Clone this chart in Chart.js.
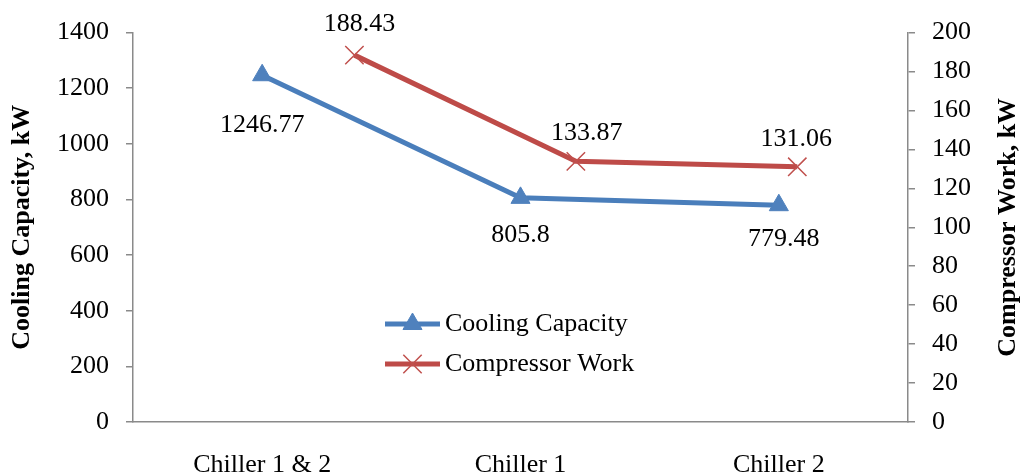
<!DOCTYPE html>
<html>
<head>
<meta charset="utf-8">
<script src="https://cdn.jsdelivr.net/npm/chart.js@4.4.1/dist/chart.umd.min.js"></script>
<style>
  html, body { margin: 0; padding: 0; background: #ffffff; }
  #wrap { width: 1021px; height: 474px; position: relative; }
</style>
</head>
<body>
<div id="wrap"><canvas id="chart"></canvas></div>
<script>
// ---- data ----
const categories = ['Chiller 1 & 2', 'Chiller 1', 'Chiller 2'];
const coolingCapacity = [1246.77, 805.8, 779.48];   // kW, left axis
const compressorWork = [188.43, 133.87, 131.06];    // kW, right axis
const leftAxisRange = [0, 1400, 200];
const rightAxisRange = [0, 200, 20];
const seriesNames = ['Cooling Capacity', 'Compressor Work'];
const axisTitles = ['Cooling Capacity, kW', 'Compressor Work, kW'];

// ---- styling ----
const FONT = '"Liberation Serif", "Times New Roman", serif';
const FS = 26;
const AXIS_GREY = '#8a8a8a';
const BLUE_LINE = '#4A7EBB', BLUE_MARK = '#4F81BD';
const RED_LINE = '#BE4B48', RED_MARK = '#C0504D';
// label offsets (dx, dy) relative to each point
const capLabelOffsets = [[0, 50], [0, 37], [5, 34]];
const workLabelOffsets = [[5, -31], [11, -28], [-1, -28]];

// compressor work is placed on its own horizontal value scale
const workPoints = compressorWork.map((v, i) => ({ x: i + 1, y: v }));

const valueLabels = {
  id: 'valueLabels',
  afterDatasetsDraw(chart) {
    const ctx = chart.ctx;
    ctx.save();
    ctx.font = FS + 'px ' + FONT;
    ctx.fillStyle = '#000';
    ctx.textAlign = 'center';
    ctx.textBaseline = 'middle';
    const sets = [[0, coolingCapacity, capLabelOffsets], [1, compressorWork, workLabelOffsets]];
    sets.forEach(([di, vals, offs]) => {
      chart.getDatasetMeta(di).data.forEach((pt, i) => {
        ctx.fillText(String(vals[i]), pt.x + offs[i][0], pt.y + offs[i][1]);
      });
    });
    ctx.restore();
  }
};

const sideTitles = {
  id: 'sideTitles',
  afterDraw(chart) {
    const ctx = chart.ctx;
    const cy = (chart.chartArea.top + chart.chartArea.bottom) / 2;
    ctx.save();
    ctx.font = 'bold ' + FS + 'px ' + FONT;
    ctx.fillStyle = '#000';
    ctx.textAlign = 'center';
    ctx.textBaseline = 'middle';
    [[22.5, axisTitles[0]], [1008, axisTitles[1]]].forEach(([x, t]) => {
      ctx.save();
      ctx.translate(x, cy);
      ctx.rotate(-Math.PI / 2);
      ctx.fillText(t, 0, 0);
      ctx.restore();
    });
    ctx.restore();
  }
};

const innerLegend = {
  id: 'innerLegend',
  afterDraw(chart) {
    const ctx = chart.ctx;
    const x0 = 385, x1 = 440, tx = 445;
    const rows = [324, 364];
    ctx.save();
    chart.data.datasets.forEach((ds, i) => {
      const y = rows[i];
      ctx.strokeStyle = ds.borderColor;
      ctx.lineWidth = ds.borderWidth;
      ctx.lineCap = 'butt';
      ctx.beginPath();
      ctx.moveTo(x0, y);
      ctx.lineTo(x1, y);
      ctx.stroke();
      ctx.fillStyle = ds.pointBackgroundColor;
      ctx.strokeStyle = ds.pointBorderColor;
      ctx.lineWidth = ds.pointBorderWidth;
      Chart.helpers.drawPoint(ctx, {
        pointStyle: ds.pointStyle, radius: ds.pointRadius, borderWidth: ds.pointBorderWidth, rotation: 0
      }, (x0 + x1) / 2, y);
      ctx.font = FS + 'px ' + FONT;
      ctx.fillStyle = '#000';
      ctx.textAlign = 'left';
      ctx.textBaseline = 'middle';
      ctx.fillText(seriesNames[i], tx, y);
    });
    ctx.restore();
  }
};

const plainTick = (v) => String(v);

new Chart(document.getElementById('chart'), {
  type: 'line',
  data: {
    labels: categories,
    datasets: [
      {
        label: seriesNames[0],
        data: coolingCapacity,
        xAxisID: 'x',
        yAxisID: 'y',
        borderColor: BLUE_LINE,
        borderWidth: 5,
        pointStyle: 'triangle',
        pointRadius: 11,
        pointHoverRadius: 11,
        pointBackgroundColor: BLUE_MARK,
        pointBorderColor: BLUE_MARK,
        pointBorderWidth: 1,
        tension: 0,
        fill: false
      },
      {
        label: seriesNames[1],
        data: workPoints,
        xAxisID: 'x2',
        yAxisID: 'y2',
        borderColor: RED_LINE,
        borderWidth: 5,
        pointStyle: 'crossRot',
        pointRadius: 13,
        pointHoverRadius: 13,
        pointBackgroundColor: RED_MARK,
        pointBorderColor: RED_MARK,
        pointBorderWidth: 1.5,
        tension: 0,
        fill: false
      }
    ]
  },
  options: {
    responsive: true,
    maintainAspectRatio: false,
    animation: false,
    events: [],
    layout: { padding: { top: 31, left: 0, right: 0, bottom: 0 } },
    plugins: { legend: { display: false }, tooltip: { enabled: false } },
    scales: {
      x: {
        type: 'category',
        position: 'bottom',
        offset: true,
        grid: { display: false },
        border: { display: true, color: AXIS_GREY, width: 1.5 },
        ticks: { color: '#000', font: { family: FONT, size: FS }, padding: 20, maxRotation: 0, autoSkip: false },
        afterFit(s) { s.height = 52; }
      },
      x2: {
        type: 'linear',
        position: 'top',
        display: false,
        min: 0,
        max: 3.5
      },
      y: {
        type: 'linear',
        position: 'left',
        min: leftAxisRange[0],
        max: leftAxisRange[1],
        ticks: { stepSize: leftAxisRange[2], color: '#000', font: { family: FONT, size: FS }, padding: 17, callback: plainTick },
        grid: { display: true, drawOnChartArea: false, drawTicks: true, tickLength: 7, color: AXIS_GREY, lineWidth: 1.5 },
        border: { display: true, color: AXIS_GREY, width: 1.5 },
        afterFit(s) { s.width = 133; }
      },
      y2: {
        type: 'linear',
        position: 'right',
        min: rightAxisRange[0],
        max: rightAxisRange[1],
        ticks: { stepSize: rightAxisRange[2], color: '#000', font: { family: FONT, size: FS }, padding: 17, callback: plainTick },
        grid: { display: true, drawOnChartArea: false, drawTicks: true, tickLength: 7, color: AXIS_GREY, lineWidth: 1.5 },
        border: { display: true, color: AXIS_GREY, width: 1.5 },
        afterFit(s) { s.width = 113; }
      }
    }
  },
  plugins: [valueLabels, sideTitles, innerLegend]
});
</script>
</body>
</html>
